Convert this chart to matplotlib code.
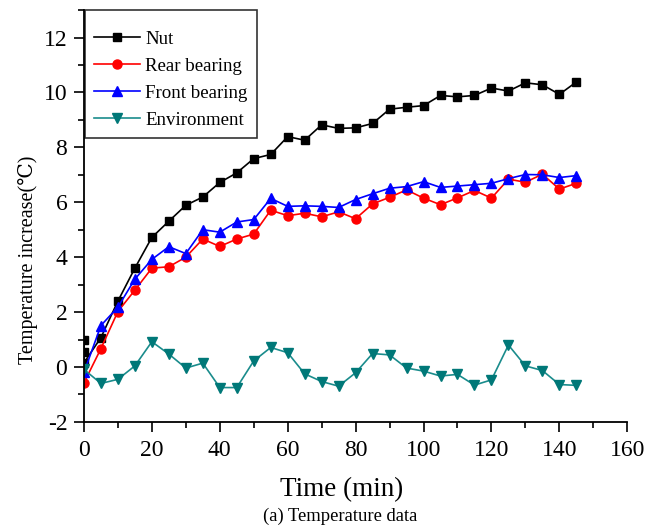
import matplotlib
matplotlib.use("Agg")
import matplotlib.pyplot as plt
from matplotlib.ticker import MultipleLocator

plt.rcParams['font.family'] = ['Liberation Serif', 'DejaVu Serif']
plt.rcParams['axes.unicode_minus'] = False

time = [0, 5, 10, 15, 20, 25, 30, 35, 40, 45, 50, 55, 60, 65, 70, 75,
        80, 85, 90, 95, 100, 105, 110, 115, 120, 125, 130, 135, 140, 145]

# nut has a few extra readings stacked at t=0
nut_time = [0, 0] + time
nut = [1.0, 0.55, 0.15, 1.07, 2.40, 3.60, 4.72, 5.31, 5.89, 6.19, 6.72, 7.07, 7.59, 7.74,
       8.39, 8.26, 8.82, 8.69, 8.71, 8.87, 9.39, 9.46, 9.52, 9.89, 9.84, 9.89,
       10.16, 10.05, 10.35, 10.28, 9.93, 10.38]
rear = [-0.58, 0.67, 2.02, 2.80, 3.60, 3.65, 4.00, 4.66, 4.39, 4.66, 4.84, 5.71,
        5.51, 5.60, 5.47, 5.65, 5.40, 5.94, 6.18, 6.45, 6.15, 5.91, 6.16, 6.43,
        6.15, 6.84, 6.73, 7.02, 6.48, 6.69]
front = [-0.20, 1.51, 2.18, 3.20, 3.92, 4.38, 4.13, 5.00, 4.91, 5.28, 5.37, 6.14,
         5.85, 5.87, 5.85, 5.81, 6.10, 6.31, 6.51, 6.57, 6.75, 6.54, 6.59, 6.64,
         6.69, 6.86, 7.01, 7.00, 6.90, 6.97]
env = [-0.09, -0.60, -0.45, 0.04, 0.92, 0.47, -0.04, 0.14, -0.75, -0.75, 0.22,
       0.71, 0.52, -0.25, -0.53, -0.70, -0.21, 0.49, 0.44, -0.04, -0.15, -0.33,
       -0.27, -0.66, -0.47, 0.80, 0.04, -0.13, -0.64, -0.67]

fig = plt.figure(figsize=(6.61, 5.30), dpi=100)
ax = fig.add_axes([0.127, 0.204, 0.822, 0.777])

ax.plot(nut_time, nut, color='black', marker='s', ms=6, lw=1.2, label='Nut')
ax.plot(time, rear, color='red', marker='o', ms=6.5, lw=1.2, label='Rear bearing')
ax.plot(time, front, color='blue', marker='^', ms=7, lw=1.2, label='Front bearing')
ax.plot(time, env, color='#1a8c8c', marker='v', mfc='#007878', mec='#007878',
        ms=7, lw=1.2, label='Environment')

ax.set_xlim(0, 160)
ax.set_ylim(-2, 13)
ax.xaxis.set_major_locator(MultipleLocator(20))
ax.xaxis.set_minor_locator(MultipleLocator(10))
ax.yaxis.set_minor_locator(MultipleLocator(1))
ax.set_yticks(range(-2, 13, 2))

for s in ['top', 'right']:
    ax.spines[s].set_visible(False)
for s in ['left', 'bottom']:
    ax.spines[s].set_linewidth(1.3)
ax.tick_params(which='major', direction='out', length=7, width=1.2, labelsize=17)
ax.tick_params(axis='x', which='major', pad=6)
ax.tick_params(axis='y', which='major', pad=5)
ax.tick_params(which='minor', direction='out', length=4.3, width=1.2)

ax.set_xlabel('Time (min)', fontsize=19.5, va='center')
ax.xaxis.set_label_coords(0.475, -0.165)
ax.set_ylabel('Temperature increase(\u2103)', fontsize=14.5, va='center')
ax.yaxis.set_label_coords(-0.103, 0.394)

leg = ax.legend(loc='upper left', bbox_to_anchor=(0.002, 1.0), borderaxespad=0,
                fontsize=13.6, frameon=True, fancybox=False, handlelength=2.4,
                labelspacing=0.52, handletextpad=0.3, borderpad=0.5,
                title=' ', title_fontsize=1)
leg.get_frame().set_edgecolor('black')
leg.get_frame().set_linewidth(1.2)

fig.text(0.515, 0.026, '(a) Temperature data', ha='center', va='center', fontsize=13.4)

fig.savefig('out.png', dpi=100)
